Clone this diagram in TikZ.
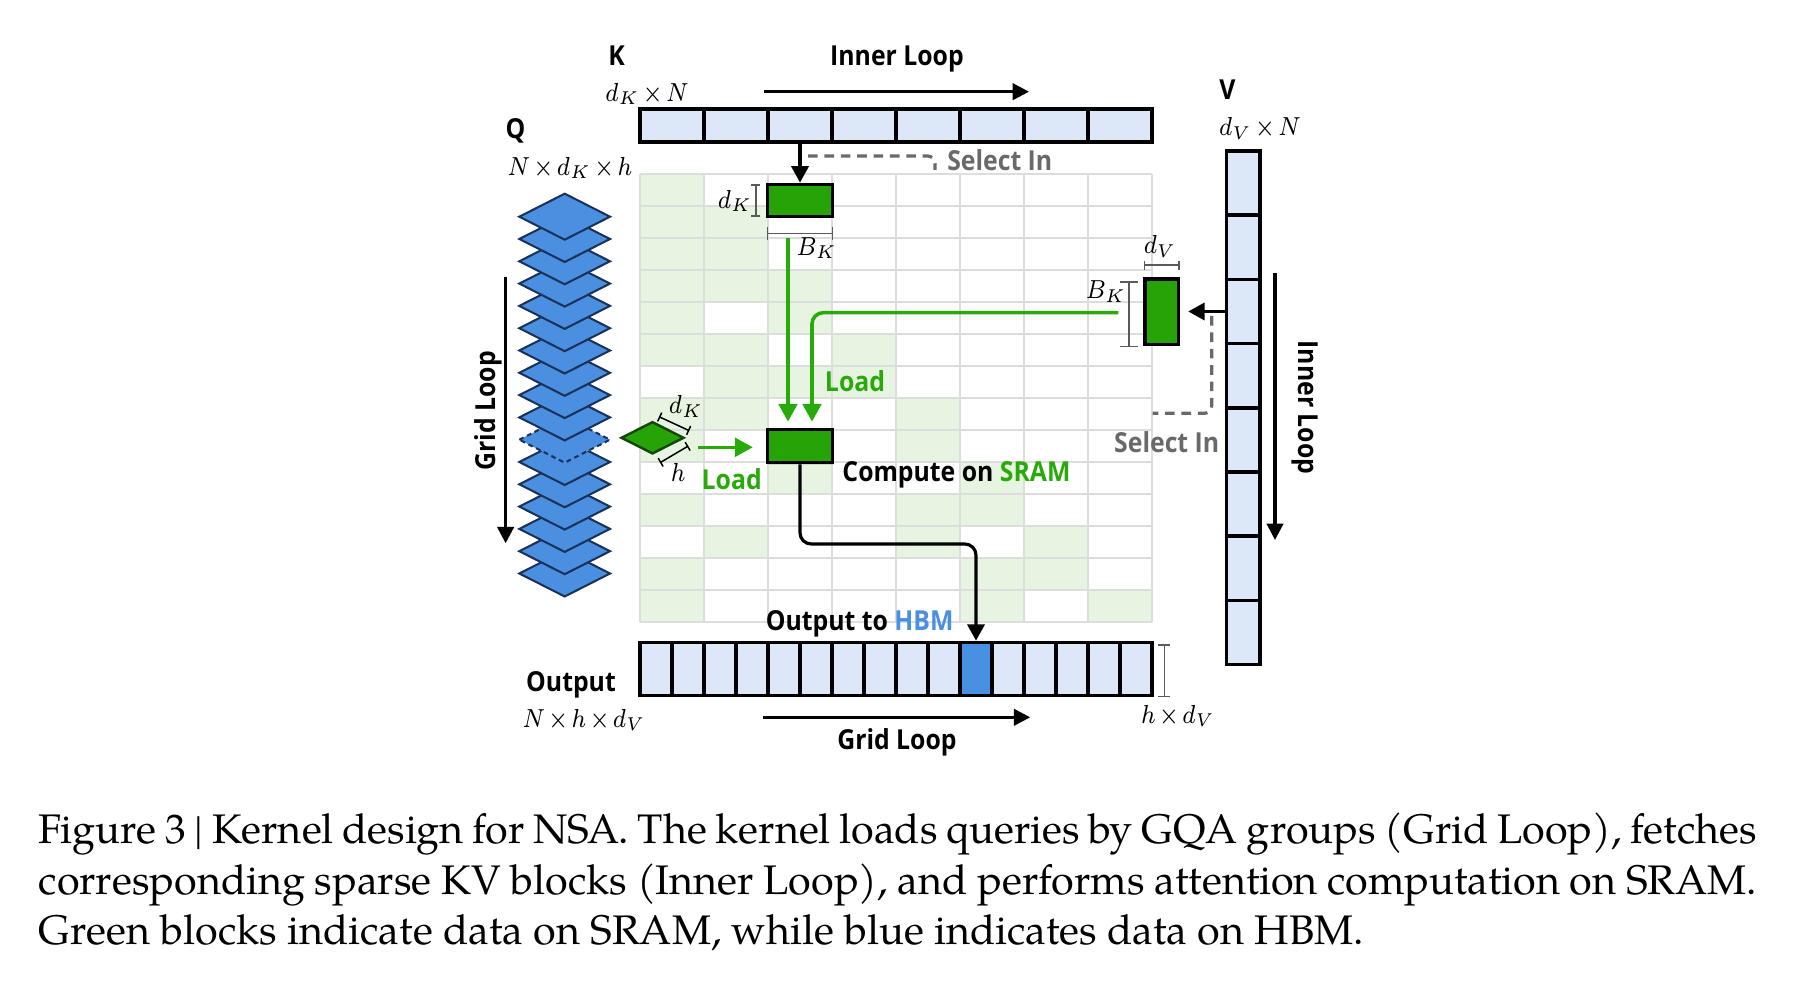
\documentclass[tikz,border=0pt]{standalone}
\usepackage{fontspec}
\setmainfont{texgyrepagella}[Extension=.otf,UprightFont=*-regular,BoldFont=*-bold,ItalicFont=*-italic,BoldItalicFont=*-bolditalic]
\newfontfamily\lblfont{Open Sans}[FakeStretch=0.9]
\usetikzlibrary{arrows.meta,shapes.geometric,shadows,calc}
\newdimen\pxl \pxl=0.2686pt
\newcommand{\tmul}{\mskip2mu\mathord{\times}\mskip2mu}
\definecolor{sramgreen}{RGB}{38,163,6}
\definecolor{loadgreen}{RGB}{40,170,10}
\definecolor{lightgreen}{RGB}{231,244,226}
\definecolor{gridgray}{RGB}{221,221,221}
\definecolor{hbmblue}{RGB}{74,144,226}
\definecolor{lightblue}{RGB}{220,232,248}
\definecolor{qblue}{RGB}{74,143,224}
\definecolor{qborder}{RGB}{26,50,90}
\definecolor{selgray}{RGB}{105,105,105}
\definecolor{dimgray}{RGB}{90,90,90}
\definecolor{qslicebd}{RGB}{20,70,10}
\tikzset{
  lbl/.style={font=\lblfont\bfseries\fontsize{7.4}{8}\selectfont, inner sep=0pt},
  mth/.style={font=\fontsize{7.3}{8}\selectfont, inner sep=0pt, xscale=0.87},
  capt/.style={font=\fontsize{11.1}{13.6}\selectfont, inner sep=0pt},
  hbmcell/.style={draw=black, fill=lightblue, line width=0.95pt, inner sep=0pt},
  sram/.style={draw=black, fill=sramgreen, line width=0.9pt, inner sep=0pt},
  gridline/.style={draw=gridgray, line width=0.72pt},
  garrow/.style={draw=loadgreen, line width=0.95pt, -{Triangle[length=4.8pt,width=5pt]}},
  karrow/.style={draw=black, line width=0.85pt, -{Triangle[length=4.4pt,width=4.6pt]}},
  looparrow/.style={draw=black, line width=0.85pt, -{Triangle[length=4.4pt,width=4.4pt]}},
  seldash/.style={draw=selgray, line width=0.85pt, dash pattern=on 2.6pt off 1.8pt, rounded corners=2pt},
  dimbar/.style={draw=dimgray, line width=0.4pt, {Bar[width=3pt]}-{Bar[width=3pt]}},
  qdia/.style={draw=qborder, fill=qblue, line width=0.55pt},
  qdash/.style={draw=qborder, fill=qblue, line width=0.55pt, dash pattern=on 1.3pt off 1pt},
  softshadow/.style={drop shadow={opacity=0.25, shadow xshift=0.5pt, shadow yshift=-0.5pt}},
}
\begin{document}
\begin{tikzpicture}[x=0.2686pt,y=-0.2686pt]
\fill[white] (0,0) rectangle (1802,1006);
\useasboundingbox (0,0) rectangle (1802,1006);

% ---- attention grid ----
\foreach \c/\r in {0/0, 0/1,1/1, 0/2,1/2, 0/3,1/3,2/3, 0/4,2/4, 0/5,1/5,3/5, 1/6,2/6,3/6,
  0/7,1/7,4/7, 0/8,2/8,4/8, 2/9,5/9, 0/10,4/10,5/10, 1/11,4/11,6/11, 0/12,5/12,6/12, 0/13,5/13,7/13}
  \fill[lightgreen] ({640+64*\c},{174+32*\r}) rectangle ++(64,32);
\foreach \i in {0,...,8}
  \draw[gridline] ({640+64*\i},174) -- ({640+64*\i},622);
\foreach \j in {0,...,14}
  \draw[gridline] (640,{174+32*\j}) -- (1152,{174+32*\j});

% ---- Q stack ----
\foreach \i in {16,15,...,0}{
  \pgfmathsetmacro\cy{216.7+22.3*\i}
  \ifnum\i=10
    \draw[qdash] (519.3,\cy) -- (564.7,{\cy-23}) -- (610,\cy) -- (564.7,{\cy+23}) -- cycle;
  \else
    \draw[qdia] (519.3,\cy) -- (564.7,{\cy-23}) -- (610,\cy) -- (564.7,{\cy+23}) -- cycle;
  \fi
}

% ---- K bar, V bar, Output bar ----
\foreach \i in {1,...,8}
  \node[hbmcell, minimum width=64\pxl, minimum height=33\pxl] (k\i) at ({608+64*\i},125.5) {};
\foreach \i in {1,...,8}
  \node[hbmcell, minimum width=33.3\pxl, minimum height=64.2\pxl] (v\i) at (1243.3,{118.9+64.2*\i}) {};
\foreach \i in {1,...,16}
  \node[hbmcell, minimum width=32\pxl, minimum height=53\pxl] (o\i) at ({624+32*\i},669) {};
\node[hbmcell, fill=hbmblue, softshadow, minimum width=32\pxl, minimum height=53\pxl] (ohl) at (o11) {};

% ---- SRAM blocks ----
\node[sram, minimum width=65\pxl, minimum height=32.4\pxl] (kblk) at (800,200.5) {};
\node[sram, softshadow, minimum width=65\pxl, minimum height=33.4\pxl] (comp) at (800,446) {};
\node[sram, minimum width=33.3\pxl, minimum height=65.3\pxl] (vblk) at (1161.7,311.7) {};
\node[diamond, draw=qslicebd, fill=sramgreen, line width=0.65pt, inner sep=0pt,
      minimum width=63\pxl, minimum height=32.3\pxl] (qs) at (652.5,437.8) {};

% ---- connectors ----
\draw[karrow] (k3.south) -- (kblk.north);
\coordinate (s1a) at (808,156);
\coordinate (s1b) at (935,170);
\draw[seldash] (s1a) -| (s1b);

\draw[karrow, shorten >=2.2pt] (v3.west) -- (v3.west -| vblk.east);
\coordinate (s2a) at (1211.7,316);
\coordinate (s2b) at (1152.7,413.3);
\draw[seldash] (s2a) |- (s2b);

\coordinate (gk) at (788,237.7);
\draw[garrow, shorten >=1.6pt] (gk) -- ($(comp.north)+(-12,0)$);
\draw[garrow, rounded corners=3pt, shorten >=1.6pt] ($(vblk.west)+(-25,1)$) -| ($(comp.north)+(12,0)$);
\coordinate (qa) at (698,447.3);
\draw[garrow, shorten >=3.5pt] (qa) -- (qa -| comp.west);

\coordinate (bend) at (976,544);
\draw[karrow, rounded corners=3pt] (comp.south) |- (bend) -- (ohl.north);

% ---- loop arrows ----
\coordinate (ila) at (763.5,91.7);  \coordinate (ilb) at (1029,91.7);
\draw[looparrow] (ila) -- (ilb);
\coordinate (gla) at (762.6,717.3); \coordinate (glb) at (1030.2,717.3);
\draw[looparrow] (gla) -- (glb);
\coordinate (lla) at (505.6,276.7); \coordinate (llb) at (505.6,543.3);
\draw[looparrow] (lla) -- (llb);
\coordinate (rla) at (1275,273.3);  \coordinate (rlb) at (1275,540);
\draw[looparrow] (rla) -- (rlb);

% ---- dimension brackets ----
\draw[dimbar, {Bar[width=2.4pt]}-{Bar[width=2.4pt]}] ($(kblk.north west)+(-10,1.5)$) -- ($(kblk.south west)+(-10,-1.5)$);
\draw[dimbar, {Bar[width=3.5pt]}-{Bar[width=3.5pt]}] ($(kblk.south west)+(1,15)$) -- ($(kblk.south east)+(-1,15)$);
\draw[dimbar, {Bar[width=2.4pt]}-{Bar[width=2.4pt]}] ($(vblk.north west)+(0.5,-12.3)$) -- ($(vblk.north east)+(-0.5,-12.3)$);
\draw[dimbar, {Bar[width=5pt]}-{Bar[width=5pt]}] ($(vblk.north west)+(-14.3,3.7)$) -- ($(vblk.south west)+(-14.3,1)$);
\draw[dimbar, {Bar[width=3.2pt]}-{Bar[width=3.2pt]}] ($(o16.north east)+(10.5,3.5)$) -- ($(o16.south east)+(10.5,0)$);
\coordinate (qd1) at (659,416.7); \coordinate (qd2) at (689.3,430.7);
\draw[dimbar, draw=black, {Bar[width=2.6pt]}-{Bar[width=2.6pt]}] (qd1) -- (qd2);
\coordinate (qh1) at (660,462.7); \coordinate (qh2) at (688.3,446);
\draw[dimbar, draw=black, {Bar[width=2.6pt]}-{Bar[width=2.6pt]}] (qh1) -- (qh2);

% ---- math labels ----
\node[mth] (ldk1) at (735,201) {$d_K$};
\node[mth] (lbk1) at (816.7,248) {$B_K$};
\node[mth] (ldv) at (1160,246.7) {$d_V$};
\node[mth, anchor=east] (lbk2) at (1127,291.7) {$B_K$};
\node[mth] (ldk2) at (686,406.7) {$d_K$};
\node[mth] (lh) at (678.3,472.5) {$h$};
\node[mth] (lhdv) at (1178,716) {$h\tmul d_V$};
\node[mth] (lnhdv) at (584,720) {$N\tmul h\tmul d_V$};
\node[mth] (lndkh) at (570,168) {$N\tmul d_K\tmul h$};
\node[mth] (ldkn) at (647,94) {$d_K\tmul N$};
\node[mth] (ldvn) at (1260,128.5) {$d_V\tmul N$};

% ---- bold labels ----
\node[lbl, anchor=base] (tK) at (616.5,66) {K};
\node[lbl, anchor=base] (tIL) at (897,65.5) {Inner Loop};
\node[lbl, anchor=base] (tQ) at (515.5,138.5) {Q};
\node[lbl, anchor=base] (tV) at (1227.4,99.7) {V};
\node[lbl, anchor=base west, text=selgray] (tsel1) at (946.5,171) {Select In};
\node[lbl, anchor=base, text=loadgreen] (tload1) at (855,392) {Load};
\node[lbl, anchor=base, text=loadgreen] (tload2) at (731.7,490) {Load};
\node[lbl, anchor=base west] (tcomp) at (841.7,481.5) {Compute on \textcolor{loadgreen}{SRAM}};
\node[lbl, anchor=base, text=selgray] (tsel2) at (1166.7,452.5) {Select In};
\node[lbl, anchor=base, rotate=90] (tgl1) at (495,410.8) {Grid Loop};
\node[lbl, anchor=base, rotate=-90] (til2) at (1298,407.4) {Inner Loop};
\node[lbl, anchor=base] (tout2) at (859.6,631) {Output to \textcolor{hbmblue}{HBM}};
\node[lbl, anchor=base] (tout) at (571,691.5) {Output};
\node[lbl, anchor=base] (tgl2) at (897,750) {Grid Loop};

% ---- caption ----
\node[capt, anchor=base west] (cap1) at (38,843.5) {\makebox[461.5pt][s]{Figure 3 | Kernel design for NSA. The kernel loads queries by GQA groups (Grid Loop), fetches}};
\node[capt, anchor=base west] (cap2) at (38,894) {\makebox[461.5pt][s]{corresponding sparse KV blocks (Inner Loop), and performs attention computation on SRAM.}};
\node[capt, anchor=base west] (cap3) at (38,944.6) {Green blocks indicate data on SRAM, while blue indicates data on HBM.};
\end{tikzpicture}
\end{document}
